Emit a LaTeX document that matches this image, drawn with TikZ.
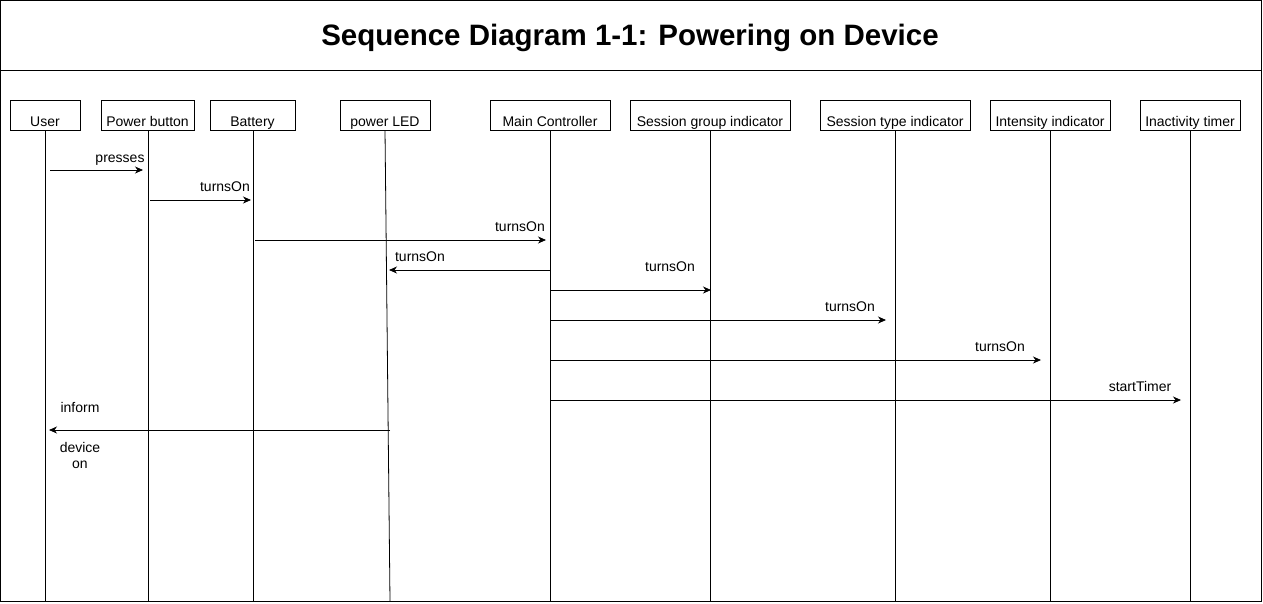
\documentclass[tikz,border=0pt]{standalone}
\usepackage{fontspec}
\setmainfont{Liberation Sans}
\usetikzlibrary{arrows.meta}
\newcommand{\mkpart}[4]{\node[partbox, minimum width=#3] (#1) at (#2,115) {#4} ;}
\tikzset{
    partbox/.style={
        draw,
        rectangle,
        fill=white,
        minimum height=30,
        inner sep=0,
        text height=26.5pt,
        text depth=3.5pt,
        font=\fontsize{14}{16}\selectfont,
    },
    lifeline/.style={
        draw,
        line width=0.8pt,
    },
    msg/.style={
        draw,
        line width=0.8pt,
        -{Stealth[length=8pt,width=7pt,inset=2.5pt]},
    },
    msglabel/.style={
        font=\fontsize{14}{16}\selectfont,
        inner sep=0,
        anchor=base,
    },
}
\begin{document}
\begin{tikzpicture}[x=1pt,y=-1pt]
    \useasboundingbox (0,0) rectangle (1263,603);
    \draw[line width=0.8pt] (0.5,0.5) rectangle (1261,601);
    \draw[line width=0.8pt] (0.5,70) -- (1261,70);
    \node[font=\fontsize{29.5}{32}\selectfont\bfseries] (title) at (630,38) {Sequence Diagram 1-1: Powering on Device};

    % lifelines
    \draw[lifeline] (45,130) -- (45,601);
    \draw[lifeline] (148,130) -- (148,601);
    \draw[lifeline] (253,130) -- (253,601);
    \draw[lifeline] (385,130) -- (390,601);
    \draw[lifeline] (550,130) -- (550,601);
    \draw[lifeline] (710,130) -- (710,601);
    \draw[lifeline] (895,130) -- (895,601);
    \draw[lifeline] (1050,130) -- (1050,601);
    \draw[lifeline] (1190,130) -- (1190,601);

    % participants
    \mkpart{user}{45}{70}{User}
    \mkpart{pwrbtn}{147.5}{93}{Power button}
    \mkpart{battery}{252.5}{85}{Battery}
    \mkpart{led}{385}{90}{power LED}
    \mkpart{mainctrl}{550}{120}{Main Controller}
    \mkpart{sgind}{710}{160}{Session group indicator}
    \mkpart{stind}{895}{150}{Session type indicator}
    \mkpart{intind}{1050}{120}{Intensity indicator}
    \mkpart{timer}{1190}{100}{Inactivity timer}

    % messages
    \coordinate (m1a) at (50,170);   \coordinate (m1b) at (143,170);
    \coordinate (m2a) at (150,200);  \coordinate (m2b) at (251,200);
    \coordinate (m3a) at (255,240);  \coordinate (m3b) at (546,240);
    \coordinate (m4a) at (550,270);  \coordinate (m4b) at (389,270);
    \coordinate (m5a) at (550,290);  \coordinate (m5b) at (711,290);
    \coordinate (m6a) at (550,320);  \coordinate (m6b) at (886,320);
    \coordinate (m7a) at (550,360);  \coordinate (m7b) at (1041,360);
    \coordinate (m8a) at (550,400);  \coordinate (m8b) at (1181,400);
    \coordinate (m9a) at (390,430);  \coordinate (m9b) at (49,430);

    \draw[msg] (m1a) -- (m1b);
    \draw[msg] (m2a) -- (m2b);
    \draw[msg] (m3a) -- (m3b);
    \draw[msg] (m4a) -- (m4b);
    \draw[msg] (m5a) -- (m5b);
    \draw[msg] (m6a) -- (m6b);
    \draw[msg] (m7a) -- (m7b);
    \draw[msg] (m8a) -- (m8b);
    \draw[msg] (m9a) -- (m9b);

    \node[msglabel] (l1) at (120,162) {presses};
    \node[msglabel] (l2) at (225,191) {turnsOn};
    \node[msglabel] (l3) at (520,231) {turnsOn};
    \node[msglabel] (l4) at (420,261) {turnsOn};
    \node[msglabel] (l5) at (670,271) {turnsOn};
    \node[msglabel] (l6) at (850,311) {turnsOn};
    \node[msglabel] (l7) at (1000,351) {turnsOn};
    \node[msglabel] (l8) at (1140,391) {startTimer};
    \node[msglabel] (l9) at (80,412) {inform};
    \node[msglabel] (l10) at (80,452) {device};
    \node[msglabel] (l11) at (80,468) {on};
\end{tikzpicture}
\end{document}
